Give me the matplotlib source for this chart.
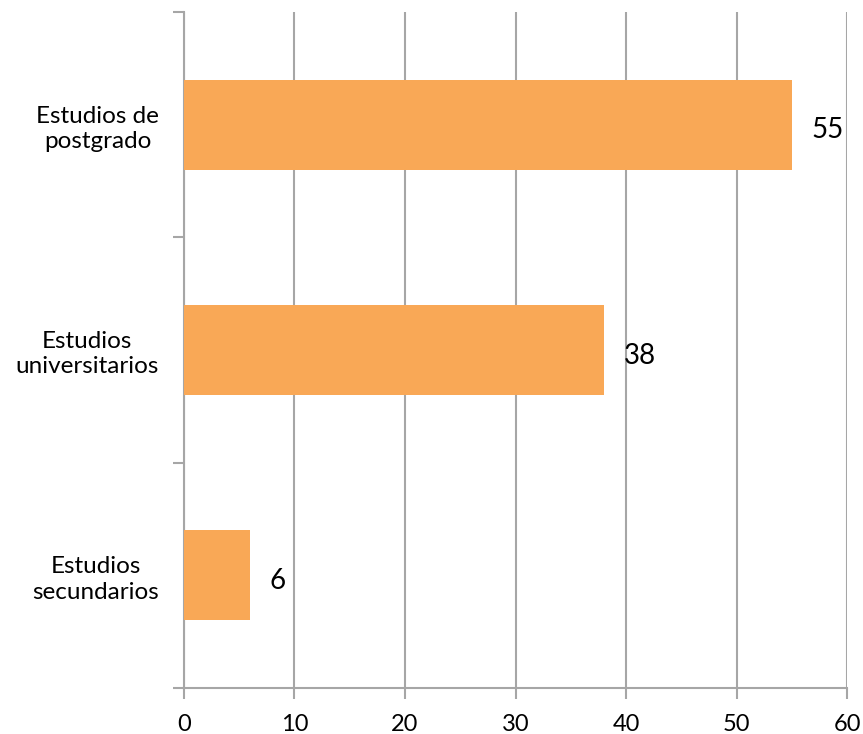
import matplotlib.pyplot as plt
import numpy as np

# Education level counts
categories = ['Estudios de\npostgrado', 'Estudios\nuniversitarios', 'Estudios\nsecundarios']
values = [55, 38, 6]
x_ticks = [0, 10, 20, 30, 40, 50, 60]

plt.rcParams['font.family'] = ['Lato', 'DejaVu Sans']

grey = '#a6a6a6'
fig = plt.figure(figsize=(8.63, 7.34), dpi=100)
ax = fig.add_axes([0.2132, 0.0627, 0.9815 - 0.2132, 0.9837 - 0.0627])

pos = np.arange(len(categories))
bars = ax.barh(pos, values, height=0.4, color='#f9a856', zorder=3)

ax.set_xlim(0, 60)
ax.set_ylim(len(categories) - 0.5, -0.5)
ax.set_xticks(x_ticks)
ax.set_xticklabels([str(t) for t in x_ticks], fontsize=17)
ax.grid(axis='x', color=grey, linewidth=1.5, zorder=0)

# category labels sit between the boundary ticks
ax.set_yticks(pos)
ax.set_yticklabels(categories, fontsize=17.5, multialignment='center', linespacing=1.25)
ax.set_yticks(np.arange(len(categories) + 1) - 0.5, minor=True)
ax.tick_params(axis='y', which='major', length=0, pad=18)
ax.tick_params(axis='y', which='minor', length=8, width=1.5, color=grey)
ax.tick_params(axis='x', length=8, width=1.5, color=grey, pad=11)

for side in ['top', 'right']:
    ax.spines[side].set_visible(False)
for side in ['left', 'bottom']:
    ax.spines[side].set_color(grey)
    ax.spines[side].set_linewidth(1.5)

for b, v in zip(bars, values):
    ax.annotate(str(v), (v, b.get_y() + b.get_height() / 2),
                xytext=(14, -4), textcoords='offset points',
                ha='left', va='center', fontsize=20)

fig.savefig('out.png', dpi=100)
